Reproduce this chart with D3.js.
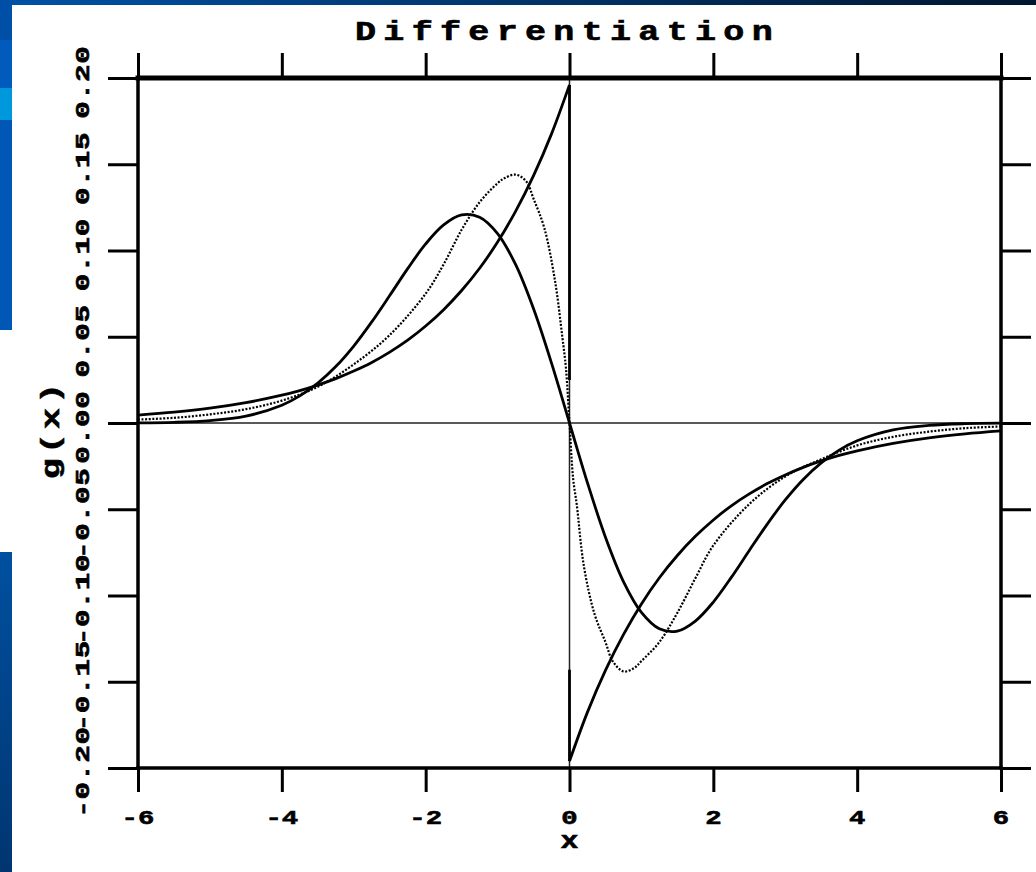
<!DOCTYPE html>
<html lang="en">
<head>
    <meta charset="UTF-8">
    <title>Differentiation</title>
    <script src="https://d3js.org/d3.v7.min.js"></script>
    <style>
        body {
            margin: 0;
            background-color: #fff;
        }
        svg {
            display: block;
        }
        .lbl {
            font-family: "Liberation Mono", "DejaVu Sans Mono", monospace;
            font-weight: bold;
            fill: #000;
            stroke: #000;
            stroke-width: 0.6px;
        }
        .curve {
            fill: none;
            stroke: #000;
        }
    </style>
</head>
<body>
    <svg id="chart" width="1036" height="872"></svg>
    <script>
        // tick values
        const xTicks = [-6, -4, -2, 0, 2, 4, 6];
        const yTicks = [-0.20, -0.15, -0.10, -0.05, 0.00, 0.05, 0.10, 0.15, 0.20];
        const yTickLabels = ["-0.20", "-0.15", "-0.10", "-0.05", "0.00", "0.05", "0.10", "0.15", "0.20"];

        // sample positions for the two solid curves
        const xLeft = [-6, -5.5, -5, -4.5, -4, -3.75, -3.5, -3.25, -3, -2.75, -2.5, -2.25, -2, -1.75, -1.5, -1.25, -1, -0.75, -0.5, -0.25, 0];
        const xRight = [0, 0.25, 0.5, 0.75, 1, 1.25, 1.5, 1.75, 2, 2.25, 2.5, 2.75, 3, 3.25, 3.5, 3.75, 4, 4.5, 5, 5.5, 6];

        // smooth solid curve (peak near x = -1.4)
        const smoothLeft = [0.0001, 0.0004, 0.0014, 0.0040, 0.0103, 0.0157, 0.0231, 0.0327, 0.0446, 0.0586, 0.0739, 0.0895, 0.1038, 0.1148, 0.1206, 0.1193, 0.1098, 0.0919, 0.0662, 0.0347, 0];
        const smoothRight = [0, -0.0347, -0.0662, -0.0919, -0.1098, -0.1193, -0.1206, -0.1148, -0.1038, -0.0895, -0.0739, -0.0586, -0.0446, -0.0327, -0.0231, -0.0157, -0.0103, -0.0040, -0.0014, -0.0004, -0.0001];

        // solid curve with the jump at x = 0
        const jumpLeft = [0.0046, 0.0063, 0.0086, 0.0118, 0.0161, 0.0188, 0.0220, 0.0257, 0.0301, 0.0351, 0.0411, 0.0480, 0.0562, 0.0657, 0.0768, 0.0897, 0.1049, 0.1227, 0.1434, 0.1676, 0.196];
        const jumpRight = [-0.196, -0.1676, -0.1434, -0.1227, -0.1049, -0.0897, -0.0768, -0.0657, -0.0562, -0.0480, -0.0411, -0.0351, -0.0301, -0.0257, -0.0220, -0.0188, -0.0161, -0.0118, -0.0086, -0.0063, -0.0046];
        const jumpUpper = [0.196, 0.025];
        const jumpLower = [-0.143, -0.196];

        // dotted curve (peak near x = -0.75)
        const dotX = [-6, -5.5, -5, -4.5, -4, -3.5, -3, -2.5, -2, -1.75, -1.5, -1.25, -1, -0.9, -0.75, -0.6, -0.5, -0.35, -0.2, -0.1, -0.05, 0,
                      0.05, 0.1, 0.2, 0.35, 0.5, 0.6, 0.75, 0.9, 1, 1.25, 1.5, 1.75, 2, 2.5, 3, 3.5, 4, 4.5, 5, 5.5, 6];
        const dotY = [0.002, 0.003, 0.005, 0.008, 0.013, 0.021, 0.034, 0.051, 0.075, 0.092, 0.112, 0.128, 0.139, 0.142, 0.144, 0.140, 0.130, 0.113, 0.082, 0.050, 0.032, 0,
                      -0.032, -0.047, -0.083, -0.111, -0.127, -0.138, -0.144, -0.142, -0.138, -0.127, -0.110, -0.090, -0.071, -0.047, -0.031, -0.021, -0.013, -0.008, -0.005, -0.003, -0.002];

        const svg = d3.select("#chart");

        // slide background pieces
        const defs = svg.append("defs");
        const topGrad = defs.append("linearGradient").attr("id", "topGrad");
        topGrad.append("stop").attr("offset", "0%").attr("stop-color", "#0052a6");
        topGrad.append("stop").attr("offset", "100%").attr("stop-color", "#00162f");
        const sideGrad = defs.append("linearGradient").attr("id", "sideGrad")
            .attr("x1", 0).attr("y1", 0).attr("x2", 0).attr("y2", 1);
        sideGrad.append("stop").attr("offset", "0%").attr("stop-color", "#0050a0");
        sideGrad.append("stop").attr("offset", "100%").attr("stop-color", "#003570");

        svg.append("rect").attr("x", 0).attr("y", 0).attr("width", 1036).attr("height", 5).attr("fill", "url(#topGrad)");
        const strips = [[0, 40, "#004fa6"], [40, 88, "#005bbd"], [88, 120, "#0098dc"], [120, 330, "#0057b6"]];
        strips.forEach(([a, b, c]) => {
            svg.append("rect").attr("x", 0).attr("y", a).attr("width", 12).attr("height", b - a).attr("fill", c);
        });
        svg.append("rect").attr("x", 0).attr("y", 552).attr("width", 12).attr("height", 320).attr("fill", "url(#sideGrad)");

        const x = d3.scaleLinear().domain([-6, 6]).range([138, 1001]);
        const y = d3.scaleLinear().domain([-0.2, 0.2]).range([768, 78]);

        // thin zero lines
        svg.append("line")
            .attr("x1", x(-6)).attr("x2", x(6)).attr("y1", y(0)).attr("y2", y(0))
            .attr("stroke", "#222").attr("stroke-width", 1.5);
        svg.append("line")
            .attr("x1", x(0)).attr("x2", x(0)).attr("y1", y(0.2)).attr("y2", y(-0.2))
            .attr("stroke", "#222").attr("stroke-width", 1.5);

        // axes: ticks only, pointing outwards
        const styleAxis = g => {
            g.select(".domain").remove();
            g.selectAll("text").remove();
            g.selectAll(".tick line").attr("stroke", "#000").attr("stroke-width", 3);
        };
        svg.append("g").attr("transform", `translate(0,${y(-0.2)})`)
            .call(d3.axisBottom(x).tickValues(xTicks).tickSize(24)).call(styleAxis);
        svg.append("g").attr("transform", `translate(0,${y(0.2)})`)
            .call(d3.axisTop(x).tickValues(xTicks).tickSize(25)).call(styleAxis);
        svg.append("g").attr("transform", `translate(${x(-6)},0)`)
            .call(d3.axisLeft(y).tickValues(yTicks).tickSize(30)).call(styleAxis);
        svg.append("g").attr("transform", `translate(${x(6)},0)`)
            .call(d3.axisRight(y).tickValues(yTicks).tickSize(30)).call(styleAxis);

        // frame
        const frame = svg.append("g").attr("stroke", "#000").attr("stroke-linecap", "square");
        frame.append("line").attr("x1", x(-6)).attr("x2", x(6)).attr("y1", y(0.2)).attr("y2", y(0.2)).attr("stroke-width", 5);
        frame.append("line").attr("x1", x(-6)).attr("x2", x(6)).attr("y1", y(-0.2)).attr("y2", y(-0.2)).attr("stroke-width", 3.5);
        frame.append("line").attr("x1", x(-6)).attr("x2", x(-6)).attr("y1", y(0.2)).attr("y2", y(-0.2)).attr("stroke-width", 3.5);
        frame.append("line").attr("x1", x(6)).attr("x2", x(6)).attr("y1", y(0.2)).attr("y2", y(-0.2)).attr("stroke-width", 3.5);

        // curves
        const line = d3.line().x(d => x(d[0])).y(d => y(d[1])).curve(d3.curveCatmullRom.alpha(0.5));
        const straight = d3.line().x(d => x(d[0])).y(d => y(d[1]));

        const smoothPts = xLeft.map((v, i) => [v, smoothLeft[i]])
            .concat(xRight.slice(1).map((v, i) => [v, smoothRight[i + 1]]));
        svg.append("path").attr("class", "curve").attr("stroke-width", 2.8).attr("d", line(smoothPts));

        svg.append("path").attr("class", "curve").attr("stroke-width", 2.8)
            .attr("d", line(xLeft.map((v, i) => [v, jumpLeft[i]])));
        svg.append("path").attr("class", "curve").attr("stroke-width", 2.8)
            .attr("d", line(xRight.map((v, i) => [v, jumpRight[i]])));
        svg.append("path").attr("class", "curve").attr("stroke-width", 2.8)
            .attr("d", straight(jumpUpper.map(v => [0, v])));
        svg.append("path").attr("class", "curve").attr("stroke-width", 2.8)
            .attr("d", straight(jumpLower.map(v => [0, v])));

        svg.append("path").attr("class", "curve").attr("stroke-width", 2.2)
            .attr("stroke-dasharray", "2,1.6")
            .attr("d", line(dotX.map((v, i) => [v, dotY[i]])));

        // title, stretched wide like the original plotting font
        svg.append("text").attr("class", "lbl")
            .attr("transform", "translate(355,40) scale(1.3,1)")
            .attr("font-size", 27).attr("letter-spacing", 5.6)
            .text("Differentiation");

        // x tick labels
        svg.selectAll(".xlab").data(xTicks).enter().append("text")
            .attr("class", "lbl xlab")
            .attr("transform", d => `translate(${x(d)},824) scale(1.3,1)`)
            .attr("text-anchor", "middle").attr("font-size", 21)
            .text(d => d);

        svg.append("text").attr("class", "lbl")
            .attr("transform", `translate(${x(0)},848) scale(1.3,1)`)
            .attr("text-anchor", "middle").attr("font-size", 23)
            .text("x");

        // y tick labels, rotated
        svg.selectAll(".ylab").data(yTicks).enter().append("text")
            .attr("class", "lbl ylab")
            .attr("transform", d => `translate(89,${y(d) + 4}) rotate(-90) scale(1.4,1)`)
            .attr("text-anchor", "middle").attr("font-size", 21).attr("letter-spacing", 0.5)
            .text((d, i) => yTickLabels[i]);

        svg.append("text").attr("class", "lbl")
            .attr("transform", `translate(59,${y(0) + 6}) rotate(-90) scale(1.35,1)`)
            .attr("text-anchor", "middle").attr("font-size", 26).attr("letter-spacing", 3)
            .text("g(x)");
    </script>
</body>
</html>
